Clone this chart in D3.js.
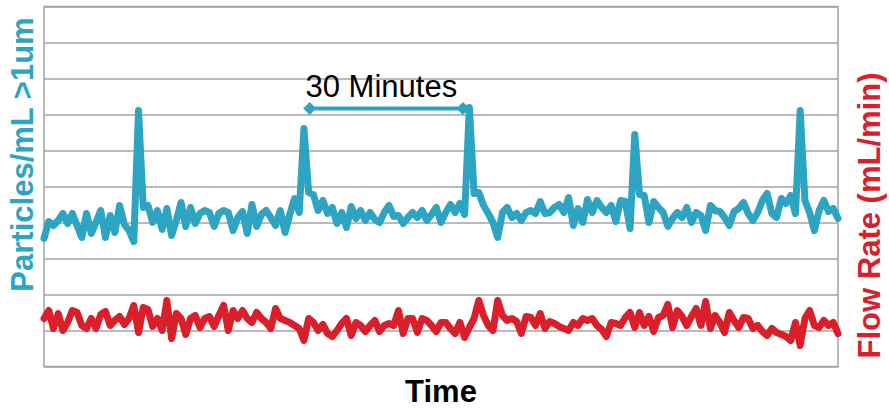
<!DOCTYPE html>
<html>
<head>
<meta charset="utf-8">
<script src="https://cdn.jsdelivr.net/npm/d3@7"></script>
<style>
  body { margin: 0; background: #fff; }
  text { font-family: "Liberation Sans", Arial, sans-serif; }
  .series { fill: none; stroke-width: 7px; stroke-linejoin: round; stroke-linecap: round; }
</style>
</head>
<body>
<div id="chart"></div>
<script>
// Minutes between two readings of the counter.
var sampleMinutes = 0.925;

// Particles/mL >1um, one reading per sample.
var particles = [
  128, 145, 141, 146, 153, 143, 153, 141, 129, 153,
  133, 144, 156, 129, 151, 134, 161, 142, 136, 125,
  256, 159, 161, 144, 156, 137, 158, 131, 146, 164,
  140, 159, 143, 153, 156, 154, 140, 153, 156, 154,
  136, 149, 155, 133, 162, 140, 152, 156, 149, 141,
  156, 134, 152, 168, 154, 238, 174, 172, 156, 166,
  153, 159, 143, 154, 139, 160, 148, 156, 146, 154,
  147, 144, 154, 161, 150, 151, 143, 149, 154, 149,
  156, 146, 152, 159, 144, 154, 162, 154, 163, 152,
  259, 173, 174, 161, 153, 144, 129, 154, 159, 149,
  153, 146, 154, 156, 153, 165, 153, 154, 159, 162,
  154, 169, 141, 158, 144, 167, 154, 166, 159, 154,
  161, 145, 166, 165, 138, 232, 172, 171, 144, 165,
  159, 154, 140, 148, 154, 149, 159, 144, 154, 151,
  136, 161, 156, 155, 149, 141, 155, 158, 164, 153,
  146, 154, 166, 173, 153, 149, 168, 163, 171, 153,
  256, 166, 154, 136, 156, 166, 155, 158, 148
];

// Flow rate (mL/min), same samples.
var flowRate = [
  4.8, 5.6, 3.8, 5.3, 3.6, 4.4, 5.6, 5.4, 4.1, 3.8,
  4.8, 3.8, 5.2, 5.5, 4.1, 4.6, 5.0, 4.2, 4.8, 6.1,
  3.4, 5.9, 5.7, 4.0, 4.8, 3.6, 6.6, 2.8, 5.3, 4.8,
  3.2, 4.8, 5.1, 3.9, 4.8, 5.0, 4.0, 5.1, 6.1, 3.6,
  5.6, 4.8, 5.6, 4.8, 4.4, 5.4, 4.8, 4.4, 3.8, 5.8,
  4.8, 4.6, 4.4, 4.1, 3.8, 2.6, 4.8, 4.4, 3.6, 4.2,
  3.3, 3.0, 3.6, 4.3, 4.8, 3.1, 4.4, 4.1, 3.5, 4.1,
  4.6, 3.5, 4.1, 4.3, 4.1, 5.6, 3.3, 4.8, 4.8, 3.4,
  4.8, 4.6, 4.1, 3.5, 4.4, 4.4, 3.8, 3.3, 4.4, 2.9,
  3.9, 4.8, 6.6, 5.1, 4.1, 3.6, 6.6, 5.1, 4.6, 4.8,
  4.5, 3.3, 5.0, 4.9, 4.1, 5.3, 3.8, 4.5, 4.3, 4.0,
  3.8, 3.6, 4.4, 4.1, 4.8, 4.6, 4.8, 4.1, 3.7, 3.0,
  4.4, 4.3, 4.1, 4.9, 5.4, 3.9, 5.4, 4.1, 5.0, 3.5,
  4.9, 5.1, 6.2, 3.9, 5.6, 5.0, 4.1, 5.0, 5.8, 4.1,
  6.5, 3.8, 5.1, 4.4, 3.4, 5.4, 4.6, 3.9, 4.9, 4.8,
  3.8, 4.1, 3.5, 3.1, 3.8, 3.4, 3.2, 3.0, 2.6, 4.4,
  2.1, 4.8, 5.6, 4.1, 3.9, 4.6, 4.1, 4.4, 3.3
];

// Gridlines on the particle axis (no labels shown).
var particleTicks = [0, 36, 72, 108, 144, 180, 216, 252, 288, 324, 360];

// The "30 Minutes" marker: start/end time and the level it sits at.
var bracketMinutes = [52, 82];
var bracketLevel = 258;
var bracketLabel = "30 Minutes";

var width = 889;
var height = 409;
var margin = { top: 6.5, right: 51, bottom: 42.5, left: 44 };
var plotW = width - margin.left - margin.right;
var plotH = height - margin.top - margin.bottom;

var blue = "#2ea4c3";
var red = "#da1f2b";
var gridColor = "#a3a3a3";

var svg = d3.select("#chart").append("svg")
  .attr("width", width)
  .attr("height", height);

var x = d3.scaleLinear()
  .domain([0, (particles.length - 1) * sampleMinutes])
  .range([margin.left, margin.left + plotW]);

var yLeft = d3.scaleLinear()
  .domain([0, 360])
  .range([margin.top + plotH, margin.top]);

var yRight = d3.scaleLinear()
  .domain([0, 36])
  .range([margin.top + plotH, margin.top]);

// Horizontal gridlines
var grid = svg.append("g")
  .attr("transform", "translate(" + margin.left + ",0)")
  .call(d3.axisLeft(yLeft).tickValues(particleTicks).tickSize(-plotW).tickFormat(""));
grid.select(".domain").remove();
grid.selectAll("line")
  .attr("stroke", gridColor)
  .attr("stroke-width", 1.5);

// Plot frame
svg.append("rect")
  .attr("x", margin.left)
  .attr("y", margin.top)
  .attr("width", plotW)
  .attr("height", plotH)
  .attr("fill", "none")
  .attr("stroke", gridColor)
  .attr("stroke-width", 1.5);

var particleLine = d3.line()
  .x((d, i) => x(i * sampleMinutes))
  .y(d => yLeft(d));

var flowLine = d3.line()
  .x((d, i) => x(i * sampleMinutes))
  .y(d => yRight(d));

svg.append("path")
  .datum(flowRate)
  .attr("class", "series")
  .attr("d", flowLine)
  .style("stroke", red);

svg.append("path")
  .datum(particles)
  .attr("class", "series")
  .attr("d", particleLine)
  .style("stroke", blue);

// 30 minute bracket
var by = yLeft(bracketLevel);
svg.append("line")
  .attr("x1", x(bracketMinutes[0]))
  .attr("x2", x(bracketMinutes[1]))
  .attr("y1", by)
  .attr("y2", by)
  .attr("stroke", blue)
  .attr("stroke-width", 4);

svg.selectAll(".tip")
  .data(bracketMinutes)
  .enter().append("path")
  .attr("class", "tip")
  .attr("d", d3.symbol(d3.symbolSquare, 85))
  .attr("transform", d => "translate(" + x(d) + "," + by + ") rotate(45)")
  .attr("fill", blue);

svg.append("text")
  .attr("x", (x(bracketMinutes[0]) + x(bracketMinutes[1])) / 2 - 5)
  .attr("y", by - 11.5)
  .attr("text-anchor", "middle")
  .style("font-size", "31px")
  .attr("fill", "#000")
  .text(bracketLabel);

// Axis titles
svg.append("text")
  .attr("transform", "translate(33," + (margin.top + 148) + ") rotate(-90)")
  .attr("text-anchor", "middle")
  .style("font-size", "31px")
  .style("font-weight", "bold")
  .attr("fill", blue)
  .text("Particles/mL >1um");

svg.append("text")
  .attr("transform", "translate(880," + (margin.top + 209) + ") rotate(-90)")
  .attr("text-anchor", "middle")
  .style("font-size", "31px")
  .style("font-weight", "bold")
  .attr("fill", red)
  .text("Flow Rate (mL/min)");

svg.append("text")
  .attr("x", 441)
  .attr("y", 402)
  .attr("text-anchor", "middle")
  .style("font-size", "31px")
  .style("font-weight", "bold")
  .attr("fill", "#000")
  .text("Time");
</script>
</body>
</html>
